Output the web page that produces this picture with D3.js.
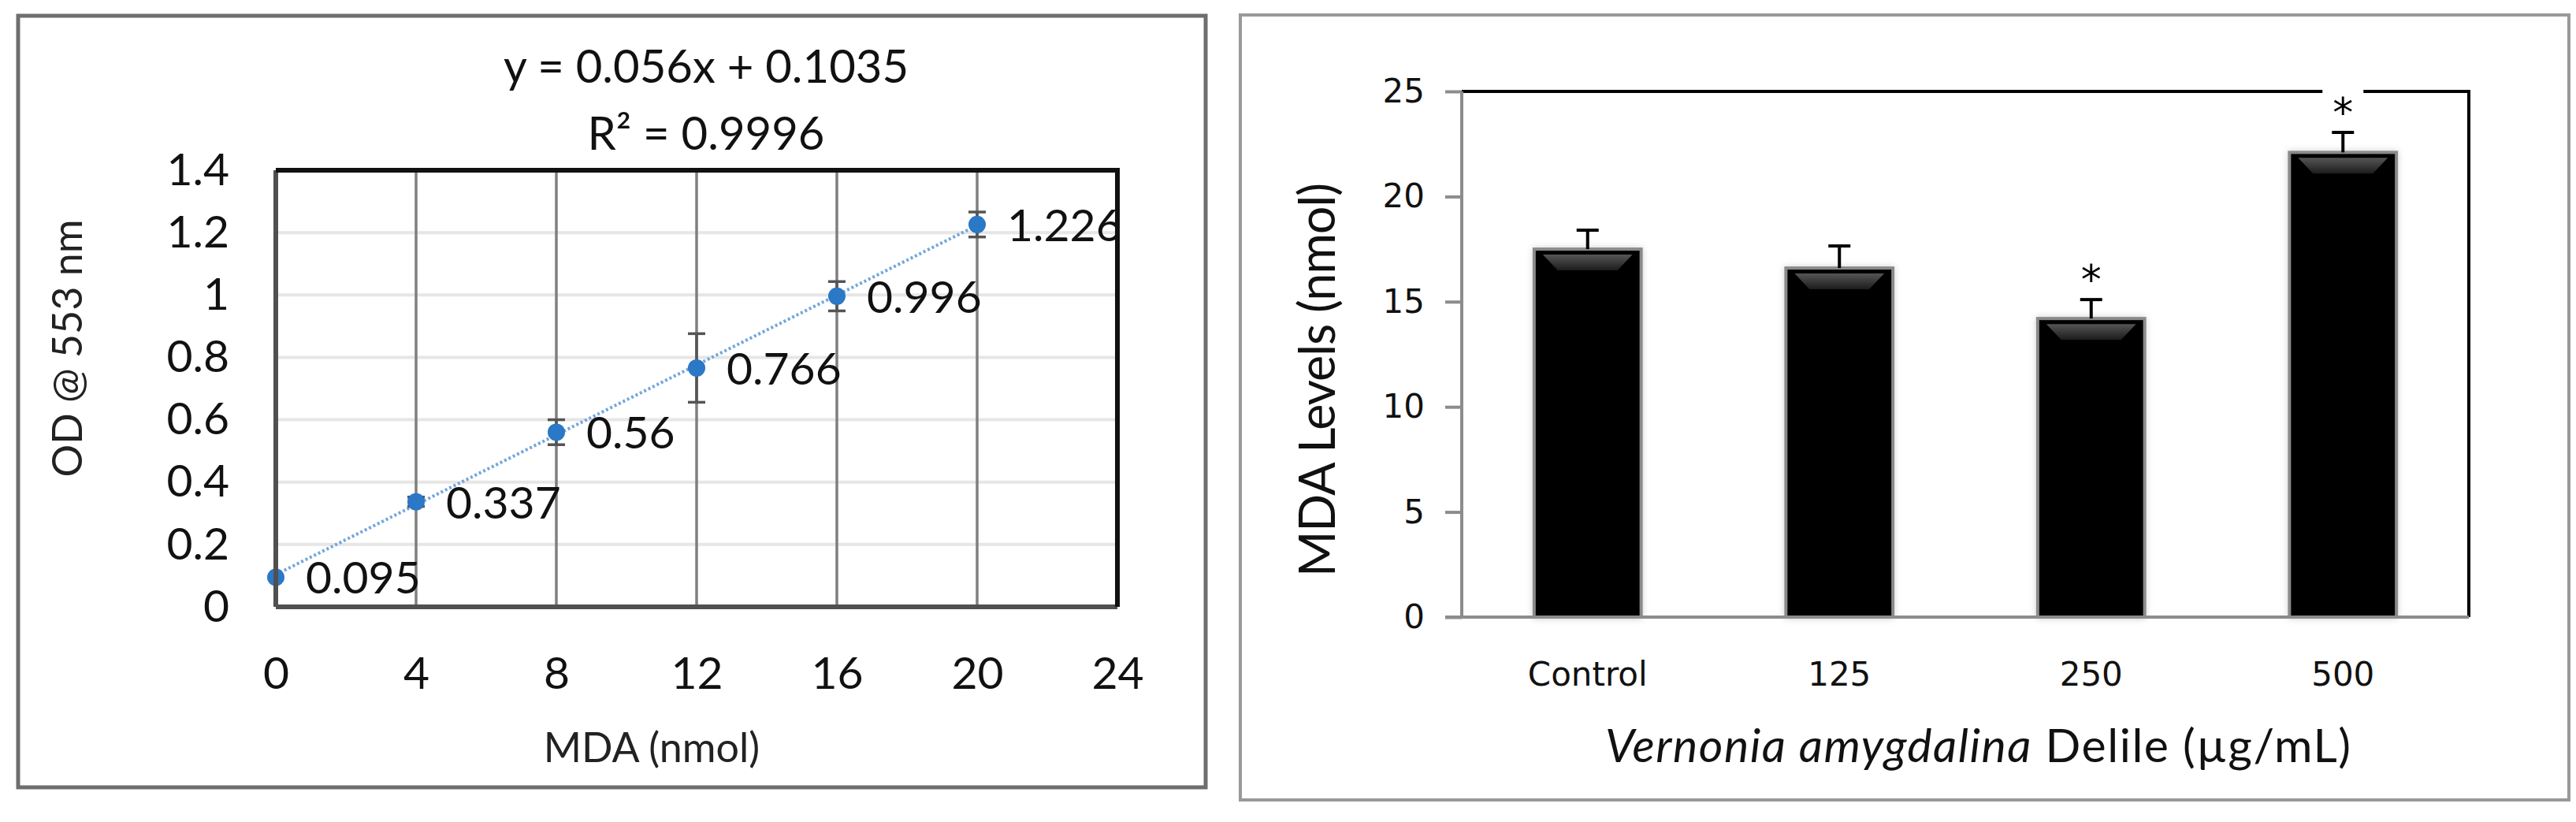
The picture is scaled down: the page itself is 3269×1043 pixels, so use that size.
<!DOCTYPE html>
<html>
<head>
<meta charset="utf-8">
<script src="https://cdn.jsdelivr.net/npm/d3@7"></script>
<style>
  html, body { margin: 0; padding: 0; background: #fff; }
  svg { display: block; }
</style>
</head>
<body>
<svg id="chart" width="3269" height="1043"></svg>
<script>
// ---------------- DATA ----------------
// Left panel: MDA standard curve
const mdaX      = [0, 4, 8, 12, 16, 20];
const odY       = [0.095, 0.337, 0.56, 0.766, 0.996, 1.226];
const odErr     = [0, 0.015, 0.04, 0.11, 0.047, 0.04];
const odLabels  = ["0.095", "0.337", "0.56", "0.766", "0.996", "1.226"];
const xTicksL   = [0, 4, 8, 12, 16, 20, 24];
const yTicksL   = [0, 0.2, 0.4, 0.6, 0.8, 1.0, 1.2, 1.4];
const fitSlope  = 0.056;
const fitInter  = 0.1035;
const fitRange  = [0, 20];
const eqText    = "y = 0.056x + 0.1035";
const r2Text    = "R² = 0.9996";
const xTitleL   = "MDA (nmol)";
const yTitleL   = "OD @ 553 nm";

// Right panel: MDA levels bar chart
const groups    = ["Control", "125", "250", "500"];
const mdaLevels = [17.5, 16.6, 14.2, 22.1];
const mdaErr    = [0.9, 1.05, 0.9, 0.95];
const sigMarks  = ["", "", "*", "*"];
const yTicksR   = [0, 5, 10, 15, 20, 25];
const yTitleR   = "MDA Levels (nmol)";
const xTitleR   = ["Vernonia amygdalina", " Delile (µg/mL)"];

// ---------------- SETUP ----------------
const svg = d3.select("#chart");
const defs = svg.append("defs");

// ================= LEFT PANEL =================
const FL = "Lato, 'Open Sans', sans-serif";
svg.append("rect").attr("x", 23).attr("y", 20).attr("width", 1507).attr("height", 979)
  .attr("fill", "#fff").attr("stroke", "#6e6e6e").attr("stroke-width", 5);

const L = { left: 350, right: 1418, top: 216, bottom: 770 };
const xL = d3.scaleLinear().domain([0, 24]).range([L.left, L.right]);
const yL = d3.scaleLinear().domain([0, 1.4]).range([L.bottom, L.top]);

const gL = svg.append("g");
// horizontal gridlines
gL.append("g").selectAll("line").data(yTicksL.slice(1, -1)).join("line")
  .attr("x1", L.left).attr("x2", L.right)
  .attr("y1", d => yL(d)).attr("y2", d => yL(d))
  .attr("stroke", "#e6e6e6").attr("stroke-width", 4);
// vertical gridlines
gL.append("g").selectAll("line").data(xTicksL.slice(1, -1)).join("line")
  .attr("x1", d => xL(d)).attr("x2", d => xL(d))
  .attr("y1", L.top).attr("y2", L.bottom)
  .attr("stroke", "#7f7f7f").attr("stroke-width", 3.5);

// trendline (dotted)
const line = d3.line().x(d => xL(d)).y(d => yL(fitSlope * d + fitInter));
gL.append("path").datum(fitRange).attr("d", line)
  .attr("fill", "none").attr("stroke", "#74a6dc").attr("stroke-width", 4)
  .attr("stroke-dasharray", "3,3");

// error bars
const pts = mdaX.map((x, i) => ({ x, y: odY[i], e: odErr[i], lab: odLabels[i] }));
const eb = gL.append("g").attr("stroke", "#555").attr("stroke-width", 3.5);
pts.filter(p => p.e > 0).forEach(p => {
  const cx = xL(p.x);
  eb.append("line").attr("x1", cx).attr("x2", cx).attr("y1", yL(p.y - p.e)).attr("y2", yL(p.y + p.e));
  [p.y - p.e, p.y + p.e].forEach(v => {
    eb.append("line").attr("x1", cx - 11).attr("x2", cx + 11).attr("y1", yL(v)).attr("y2", yL(v));
  });
});

// markers
gL.append("g").selectAll("circle").data(pts).join("circle")
  .attr("cx", d => xL(d.x)).attr("cy", d => yL(d.y)).attr("r", 11)
  .attr("fill", "#2a78c6");

// data labels (clipped at plot edge)
defs.append("clipPath").attr("id", "clipL").append("rect")
  .attr("x", 0).attr("y", 0).attr("width", L.right - 2).attr("height", 1043);
gL.append("g").attr("clip-path", "url(#clipL)").selectAll("text").data(pts).join("text")
  .attr("x", d => xL(d.x) + 38).attr("y", d => yL(d.y) + 21)
  .attr("font-family", FL).attr("font-size", 57).attr("fill", "#111")
  .text(d => d.lab);

// plot border
gL.append("line").attr("x1", L.left).attr("x2", L.right).attr("y1", L.bottom).attr("y2", L.bottom)
  .attr("stroke", "#505050").attr("stroke-width", 6);
gL.append("line").attr("x1", L.left).attr("x2", L.left).attr("y1", L.top).attr("y2", L.bottom)
  .attr("stroke", "#505050").attr("stroke-width", 6);
gL.append("path").attr("d", `M${L.left},${L.top}H${L.right}V${L.bottom}`)
  .attr("fill", "none").attr("stroke", "#111").attr("stroke-width", 6);

// axes
const fmtL = d => String(+d.toFixed(1));
const axYL = gL.append("g").attr("transform", `translate(${L.left},0)`)
  .call(d3.axisLeft(yL).tickValues(yTicksL).tickSize(0).tickPadding(59).tickFormat(fmtL));
const axXL = gL.append("g").attr("transform", `translate(0,${L.bottom})`)
  .call(d3.axisBottom(xL).tickValues(xTicksL).tickSize(0).tickPadding(64));
[axYL, axXL].forEach(a => {
  a.select(".domain").remove();
  a.selectAll("text").attr("font-family", FL).attr("font-size", 57).attr("fill", "#111");
});

// titles
gL.append("text").attr("x", 827).attr("y", 967).attr("text-anchor", "middle")
  .attr("font-family", FL).attr("font-size", 52).attr("fill", "#222").text(xTitleL);
gL.append("text").attr("transform", "translate(104,442) rotate(-90)").attr("text-anchor", "middle")
  .attr("font-family", FL).attr("font-size", 52).attr("fill", "#222").text(yTitleL);
gL.append("text").attr("x", 896).attr("y", 105).attr("text-anchor", "middle")
  .attr("font-family", FL).attr("font-size", 58).attr("fill", "#111").text(eqText);
gL.append("text").attr("x", 896).attr("y", 190).attr("text-anchor", "middle")
  .attr("font-family", FL).attr("font-size", 58).attr("fill", "#111").text(r2Text);

// ================= RIGHT PANEL =================
const FR = "'DejaVu Sans', Verdana, sans-serif";
const FT = "Lato, 'Open Sans', sans-serif";
svg.append("rect").attr("x", 1574).attr("y", 19).attr("width", 1686).attr("height", 996)
  .attr("fill", "#fff").attr("stroke", "#999").attr("stroke-width", 4);

const R = { left: 1855, right: 3133, top: 116, bottom: 783 };
const xR = d3.scaleBand().domain(groups).range([R.left, R.right])
  .paddingInner(0.575).paddingOuter(0.2875);
const yR = d3.scaleLinear().domain([0, 25]).range([R.bottom, R.top]);

const gR = svg.append("g");

// plot top/right frame (black)
gR.append("path").attr("d", `M${R.left},${R.top}H${R.right}V${R.bottom}`)
  .attr("fill", "none").attr("stroke", "#000").attr("stroke-width", 4);

// bar shadow filter & bevel gradient
const flt = defs.append("filter").attr("id", "soft").attr("x", "-20%").attr("y", "-5%")
  .attr("width", "140%").attr("height", "110%");
flt.append("feDropShadow").attr("dx", 0).attr("dy", 0).attr("stdDeviation", 4)
  .attr("flood-color", "#000").attr("flood-opacity", 0.18);
const grad = defs.append("linearGradient").attr("id", "bevel")
  .attr("x1", 0).attr("x2", 0).attr("y1", 0).attr("y2", 1);
grad.append("stop").attr("offset", "0%").attr("stop-color", "#555");
grad.append("stop").attr("offset", "100%").attr("stop-color", "#1c1c1c");

const bars = groups.map((g, i) => ({ g, v: mdaLevels[i], e: mdaErr[i], s: sigMarks[i] }));
const bw = xR.bandwidth();

gR.append("g").selectAll("rect").data(bars).join("rect")
  .attr("x", d => xR(d.g)).attr("y", d => yR(d.v))
  .attr("width", bw).attr("height", d => yR(0) - yR(d.v))
  .attr("fill", "#000").attr("stroke", "#8a8a8a").attr("stroke-width", 4)
  .attr("filter", "url(#soft)");

// top bevel highlight
gR.append("g").selectAll("path").data(bars).join("path")
  .attr("d", d => {
    const x0 = xR(d.g), x1 = x0 + bw, y0 = yR(d.v) + 7, y1 = yR(d.v) + 27;
    return `M${x0 + 11},${y0}H${x1 - 11}L${x1 - 30},${y1}H${x0 + 30}Z`;
  })
  .attr("fill", "url(#bevel)");

// error bars (upper only)
const ebR = gR.append("g").attr("stroke", "#000").attr("stroke-width", 4);
bars.forEach(d => {
  const cx = xR(d.g) + bw / 2;
  ebR.append("line").attr("x1", cx).attr("x2", cx).attr("y1", yR(d.v)).attr("y2", yR(d.v + d.e));
  ebR.append("line").attr("x1", cx - 14).attr("x2", cx + 14).attr("y1", yR(d.v + d.e)).attr("y2", yR(d.v + d.e));
});

// significance asterisks
const sg = gR.append("g");
bars.filter(d => d.s).forEach(d => {
  const cx = xR(d.g) + bw / 2;
  const cy = yR(d.v + d.e) - 34;
  sg.append("rect").attr("x", cx - 26).attr("y", cy - 22).attr("width", 52).attr("height", 44).attr("fill", "#fff");
  sg.append("text").attr("x", cx).attr("y", cy + 27).attr("text-anchor", "middle")
    .attr("font-family", FR).attr("font-size", 52).attr("fill", "#000").text(d.s);
});

// axes (gray)
gR.append("line").attr("x1", R.left - 21).attr("x2", R.right).attr("y1", R.bottom).attr("y2", R.bottom)
  .attr("stroke", "#8c8c8c").attr("stroke-width", 4);
gR.append("line").attr("x1", R.left).attr("x2", R.left).attr("y1", R.top).attr("y2", R.bottom)
  .attr("stroke", "#8c8c8c").attr("stroke-width", 4);

const axYR = gR.append("g").attr("transform", `translate(${R.left},0)`)
  .call(d3.axisLeft(yR).tickValues(yTicksR).tickSize(21).tickPadding(26));
axYR.select(".domain").remove();
axYR.selectAll(".tick line").attr("stroke", "#8c8c8c").attr("stroke-width", 4);
axYR.selectAll("text").attr("font-family", FR).attr("font-size", 42).attr("fill", "#111");

const axXR = gR.append("g").attr("transform", `translate(0,${R.bottom})`)
  .call(d3.axisBottom(xR).tickSize(0).tickPadding(57));
axXR.select(".domain").remove();
axXR.selectAll("text").attr("font-family", FR).attr("font-size", 42).attr("fill", "#111");

// titles
gR.append("text").attr("transform", "translate(1694,482) rotate(-90)").attr("text-anchor", "middle")
  .attr("font-family", FT).attr("font-size", 63).attr("fill", "#111")
  .attr("textLength", 500).attr("lengthAdjust", "spacing").text(yTitleR);

const xt = gR.append("text").attr("x", 2510).attr("y", 967).attr("text-anchor", "middle")
  .attr("font-family", FT).attr("font-size", 59).attr("fill", "#111")
  .attr("textLength", 946).attr("lengthAdjust", "spacing");
xt.append("tspan").attr("font-style", "italic").text(xTitleR[0]);
xt.append("tspan").text(xTitleR[1]);
</script>
</body>
</html>
